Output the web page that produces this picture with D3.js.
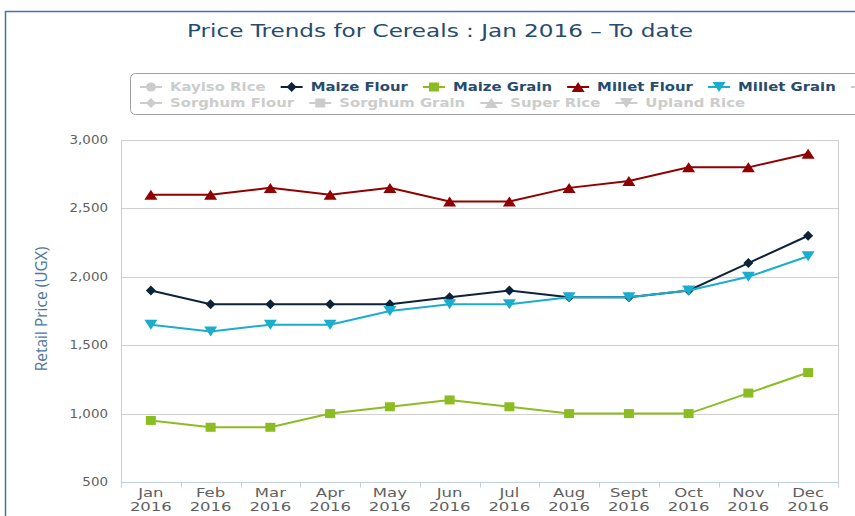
<!DOCTYPE html>
<html>
<head>
<meta charset="utf-8">
<script src="https://cdn.jsdelivr.net/npm/d3@7"></script>
<style>
  body { margin: 0; background: #fff; }
  svg { display: block; font-family: "DejaVu Sans", Verdana, sans-serif; }
</style>
</head>
<body>
<div id="chart"></div>
<script>
// Chart data
const months = ['Jan', 'Feb', 'Mar', 'Apr', 'May', 'Jun', 'Jul', 'Aug', 'Sept', 'Oct', 'Nov', 'Dec'];
const year = '2016';
const yTicks = [500, 1000, 1500, 2000, 2500, 3000];

const maizeFlour  = [1900, 1800, 1800, 1800, 1800, 1850, 1900, 1850, 1850, 1900, 2100, 2300];
const maizeGrain  = [950, 900, 900, 1000, 1050, 1100, 1050, 1000, 1000, 1000, 1150, 1300];
const milletFlour = [2600, 2600, 2650, 2600, 2650, 2550, 2550, 2650, 2700, 2800, 2800, 2900];
const milletGrain = [1650, 1600, 1650, 1650, 1750, 1800, 1800, 1850, 1850, 1900, 2000, 2150];

// legend order (hidden ones are greyed out); null name = item cut off at the right edge
const legendNames   = ['Kayiso Rice', 'Maize Flour', 'Maize Grain', 'Millet Flour', 'Millet Grain', null,
                       'Sorghum Flour', 'Sorghum Grain', 'Super Rice', 'Upland Rice'];
const legendVisible = [false, true, true, true, true, false, false, false, false, false];

const series = [
  { name: 'Maize Flour',  values: maizeFlour,  color: '#0d233a', symbol: 'diamond' },
  { name: 'Maize Grain',  values: maizeGrain,  color: '#8bbc21', symbol: 'square' },
  { name: 'Millet Flour', values: milletFlour, color: '#910000', symbol: 'triangle' },
  { name: 'Millet Grain', values: milletGrain, color: '#1aadce', symbol: 'triangle-down' }
];
const symbolCycle = ['circle', 'diamond', 'square', 'triangle', 'triangle-down'];

const W = 855, H = 516;
const plot = { left: 121, right: 838, top: 140, bottom: 482 };

const svg = d3.select('#chart').append('svg')
  .attr('width', W)
  .attr('height', H);

// text looks horizontally stretched in the reference
function stretch(sel, sx) {
  sel.attr('transform', function() {
    const x = +d3.select(this).attr('x') || 0;
    return `matrix(${sx},0,0,1,${x * (1 - sx)},0)`;
  });
}

function markerPath(type) {
  switch (type) {
    case 'square': return 'M-5,-4.5H5V4.5H-5Z';
    case 'diamond': return 'M0,-5L5,0L0,5L-5,0Z';
    case 'triangle': return 'M0,-5L6.5,5L-6.5,5Z';
    case 'triangle-down': return 'M0,5L6.5,-5L-6.5,-5Z';
    default: return 'M-5,0A5,4.5 0 1,0 5,0A5,4.5 0 1,0 -5,0Z';
  }
}

// outer frame
svg.append('rect')
  .attr('x', 5.5).attr('y', 11.5)
  .attr('width', 900).attr('height', 600)
  .attr('fill', 'none')
  .attr('stroke', '#4572a7')
  .attr('stroke-width', 1.5);

// title
svg.append('text')
  .attr('x', 440).attr('y', 37)
  .attr('text-anchor', 'middle')
  .attr('fill', '#274b6d')
  .attr('font-size', '17px')
  .text('Price Trends for Cereals : Jan 2016 \u2013 To date')
  .call(stretch, 1.36);

// scales
const x = d3.scaleBand().domain(months).range([plot.left, plot.right]);
const y = d3.scaleLinear().domain([500, 3000]).range([plot.bottom, plot.top]);
const cx = m => x(m) + x.bandwidth() / 2;

// grid
svg.append('g')
  .selectAll('line')
  .data(yTicks)
  .join('line')
  .attr('x1', plot.left).attr('x2', plot.right)
  .attr('y1', d => Math.round(y(d)) + 0.5)
  .attr('y2', d => Math.round(y(d)) + 0.5)
  .attr('stroke', '#d0d0d0');

// plot border (left + right)
svg.append('line')
  .attr('x1', plot.left + 0.5).attr('x2', plot.left + 0.5)
  .attr('y1', plot.top).attr('y2', plot.bottom)
  .attr('stroke', '#d0d0d0');
svg.append('line')
  .attr('x1', plot.right + 0.5).attr('x2', plot.right + 0.5)
  .attr('y1', plot.top).attr('y2', plot.bottom)
  .attr('stroke', '#d0d0d0');

// x axis
const xAxis = svg.append('g')
  .attr('transform', `translate(0,${plot.bottom + 0.5})`);
xAxis.append('line')
  .attr('x1', plot.left).attr('x2', plot.right + 1)
  .attr('stroke', '#c0d0e0');
xAxis.selectAll('.tick')
  .data(months.map(m => x(m)).concat([plot.right]))
  .join('line')
  .attr('x1', d => Math.round(d) + 0.5).attr('x2', d => Math.round(d) + 0.5)
  .attr('y1', 0).attr('y2', 5)
  .attr('stroke', '#c0d0e0');

const xLab = svg.append('g')
  .attr('fill', '#606060')
  .attr('font-size', '12.5px')
  .attr('text-anchor', 'middle');
xLab.selectAll('.m')
  .data(months)
  .join('text')
  .attr('x', d => cx(d)).attr('y', 497)
  .text(d => d)
  .call(stretch, 1.32);
xLab.selectAll('.yr')
  .data(months)
  .join('text')
  .attr('class', 'yr')
  .attr('x', d => cx(d)).attr('y', 511)
  .text(year)
  .call(stretch, 1.32);

// y axis labels
svg.append('g')
  .attr('fill', '#606060')
  .attr('font-size', '12px')
  .attr('text-anchor', 'end')
  .selectAll('text')
  .data(yTicks)
  .join('text')
  .attr('x', 108).attr('y', d => y(d) + 4)
  .text(d3.format(','))
  .call(stretch, 1.12);

svg.append('text')
  .attr('transform', 'translate(47,309) rotate(-90)')
  .attr('text-anchor', 'middle')
  .attr('fill', '#4d759e')
  .attr('font-family', '"Open Sans", sans-serif')
  .attr('font-size', '15.5px')
  .text('Retail Price (UGX)');

// series
const line = d3.line()
  .x((d, i) => cx(months[i]))
  .y(d => y(d));

series.forEach(s => {
  const g = svg.append('g');
  g.append('path')
    .datum(s.values)
    .attr('d', line)
    .attr('fill', 'none')
    .attr('stroke', s.color)
    .attr('stroke-width', 2);
  g.selectAll('path.pt')
    .data(s.values)
    .join('path')
    .attr('class', 'pt')
    .attr('transform', (d, i) => `translate(${cx(months[i])},${y(d)})`)
    .attr('d', markerPath(s.symbol))
    .attr('fill', s.color);
});

// legend
svg.append('rect')
  .attr('x', 130.5).attr('y', 73.5)
  .attr('width', 760).attr('height', 41)
  .attr('rx', 5)
  .attr('fill', 'none')
  .attr('stroke', '#a0a0a0');

const rowY = [87, 103];
let lx = 140, row = 0;
legendNames.forEach((name, i) => {
  if (i === 6) { row = 1; lx = 140; }
  const vis = legendVisible[i];
  const s = series.find(d => d.name === name);
  const col = vis ? s.color : '#cccccc';
  const ly = rowY[row];
  const item = svg.append('g');
  item.append('line')
    .attr('x1', lx).attr('x2', lx + 22)
    .attr('y1', ly).attr('y2', ly)
    .attr('stroke', col).attr('stroke-width', 2);
  item.append('path')
    .attr('transform', `translate(${lx + 11},${ly})`)
    .attr('d', markerPath(symbolCycle[i % 5]))
    .attr('fill', col);
  if (name) {
    const t = item.append('text')
      .attr('x', lx + 30).attr('y', ly + 4.5)
      .attr('fill', vis ? '#274b6d' : '#cccccc')
      .attr('font-size', '12px')
      .attr('font-weight', 'bold')
      .text(name);
    const sx = 1.24;
    const w = t.node().getComputedTextLength() * sx;
    t.call(stretch, sx);
    lx = lx + 30 + w + 15;
  }
});
</script>
</body>
</html>
